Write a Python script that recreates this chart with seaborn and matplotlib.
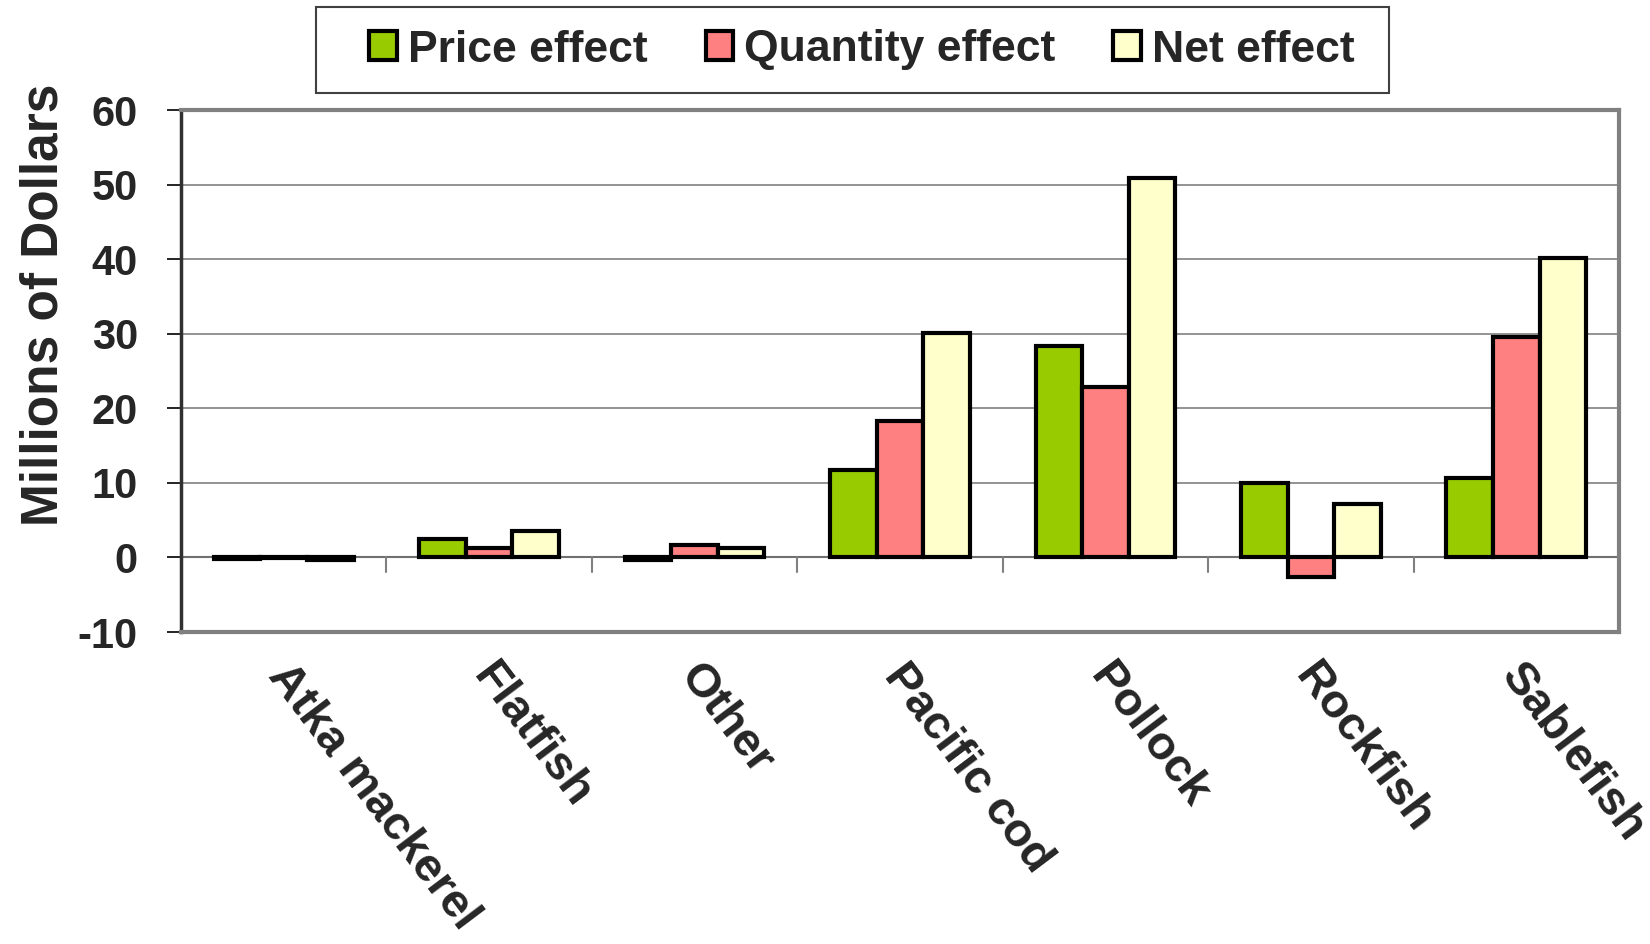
import matplotlib
matplotlib.use("Agg")
import matplotlib.pyplot as plt
import matplotlib.transforms as mtransforms
from matplotlib.patches import Rectangle
import seaborn as sns
import pandas as pd

categories = ["Atka mackerel", "Flatfish", "Other", "Pacific cod", "Pollock", "Rockfish", "Sablefish"]
price_effect = [-0.2, 2.5, -0.4, 11.7, 28.4, 10.0, 10.7]
quantity_effect = [-0.1, 1.2, 1.6, 18.3, 22.8, -2.6, 29.5]
net_effect = [-0.3, 3.6, 1.3, 30.1, 50.9, 7.2, 40.2]
series = ["Price effect", "Quantity effect", "Net effect"]
colors = ["#99CC00", "#FF8080", "#FFFFCC"]

rows = []
for name, vals in zip(series, [price_effect, quantity_effect, net_effect]):
    for c, v in zip(categories, vals):
        rows.append({"cat": c, "series": name, "value": v})
df = pd.DataFrame(rows)

sns.set_style("white")
plt.rcParams["font.family"] = ["Liberation Sans", "DejaVu Sans"]
plt.rcParams["font.weight"] = "bold"
plt.rcParams["axes.unicode_minus"] = False

W, H = 1650, 944
fig = plt.figure(figsize=(W / 100, H / 100), dpi=100)
L, R, T, B = 181, 1619, 110, 632
ax = fig.add_axes([L / W, 1 - B / H, (R - L) / W, (B - T) / H])

sns.barplot(data=df, x="cat", y="value", hue="series", order=categories,
            hue_order=series, palette=colors, width=0.68, saturation=1,
            edgecolor="black", linewidth=3, ax=ax, legend=True, zorder=3)

ax.set_ylim(-10, 60)
ax.set_xlim(-0.5, len(categories) - 0.5)
ax.set_yticks(range(-10, 61, 10))
ax.tick_params(axis="y", labelsize=30, length=10, width=1.2, color="black",
               direction="out", left=True, pad=21)
for lbl in ax.get_yticklabels():
    lbl.set_fontweight("bold")
ax.set_ylabel("")
ax.set_xlabel("")
fig.text(44 / W, 1 - 305 / H, "Millions of Dollars", rotation=90, ha="center",
         va="center", fontsize=37, fontweight="bold")

# grid lines
for yv in range(10, 60, 10):
    ax.axhline(yv, color="#808080", lw=1.2, zorder=0)
ax.axhline(0, color="#707070", lw=1.5, zorder=1)

# frame
for s in ["top", "right", "bottom"]:
    ax.spines[s].set_color("#808080")
    ax.spines[s].set_linewidth(3)
ax.spines["left"].set_color("#303030")
ax.spines["left"].set_linewidth(2.5)

# x ticks at category boundaries, from the zero line downward
ax.set_xticks([])
for b in range(1, len(categories)):
    ax.plot([b - 0.5, b - 0.5], [0, -2.0], color="#808080", lw=1.5, zorder=1)

# category labels
lab_trans = mtransforms.blended_transform_factory(ax.transData, ax.transAxes)
for i, c in enumerate(categories):
    ax.text(i + 0.05, -0.045, c, transform=lab_trans, rotation=-53,
            rotation_mode="anchor", ha="left", va="top", fontsize=34,
            fontweight="bold")

# legend
handles, labels = ax.get_legend_handles_labels()
ax.get_legend().remove()
leg = fig.legend(handles, labels, loc="center", bbox_to_anchor=(862 / W, 1 - 50 / H),
                 ncol=3, frameon=False,
                 handlelength=0.62, handleheight=0.62, handletextpad=0.25,
                 columnspacing=1.3, borderpad=0.3, prop={"weight": "bold", "size": 32})
for h in leg.legend_handles:
    h.set_edgecolor("black")
    h.set_linewidth(3)
fig.patches.append(Rectangle((316 / W, 1 - 93 / H), 1073 / W, 86 / H,
                             transform=fig.transFigure, fill=False,
                             edgecolor="#404040", linewidth=1.5))

fig.savefig("out.png", dpi=100, facecolor="white")
